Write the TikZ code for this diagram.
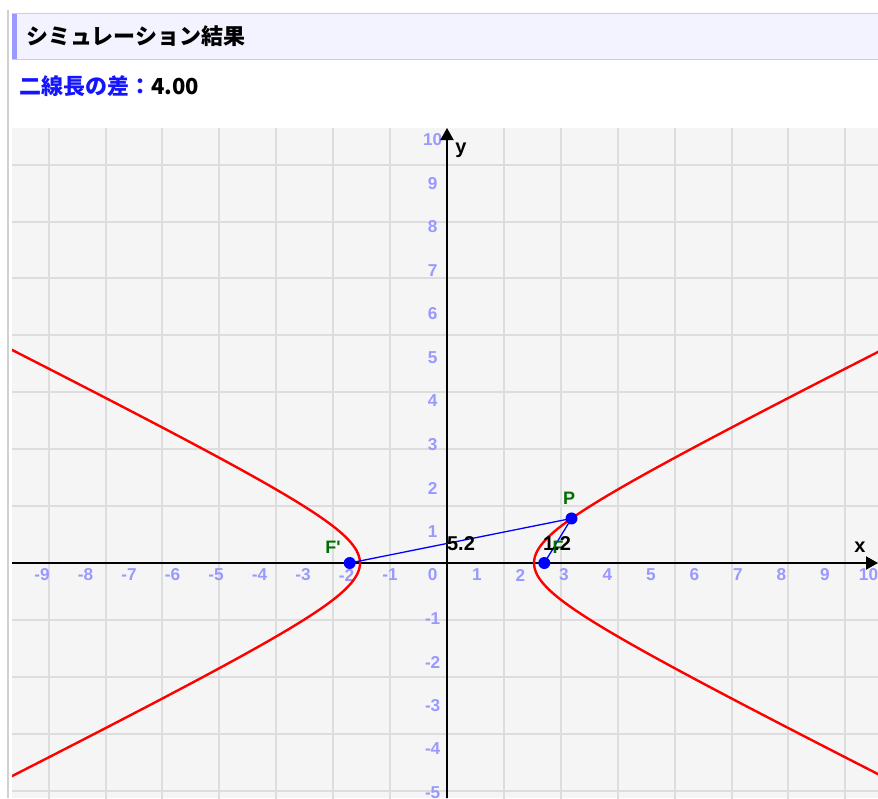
\documentclass[tikz,border=0pt]{standalone}
\usepackage{fontspec}
\setmainfont{Liberation Sans}
\newfontfamily\jpfont{Noto Sans CJK JP}
\usetikzlibrary{arrows.meta}

\definecolor{pagegray}{RGB}{208,208,208}
\definecolor{headfill}{RGB}{243,243,255}
\definecolor{headline}{RGB}{200,200,250}
\definecolor{headbar}{RGB}{155,155,255}
\definecolor{headblue}{RGB}{20,20,255}
\definecolor{plotbg}{RGB}{245,245,245}
\definecolor{gridgray}{RGB}{221,221,221}
\definecolor{tickblue}{RGB}{153,153,255}
\definecolor{ptblue}{RGB}{0,0,255}
\definecolor{labgreen}{RGB}{0,110,0}

\begin{document}
\begin{tikzpicture}[x=21.75pt,y=21.75pt,
    gridline/.style={draw=gridgray, line width=1pt},
    axis/.style={line width=1pt, -{Triangle[length=6pt,width=6.5pt]}},
    ticklab/.style={text=tickblue, inner sep=0pt, font=\fontsize{8.6}{10}\selectfont\bfseries},
    curve/.style={draw=red, line width=1.2pt},
    seg/.style={draw=ptblue, line width=0.65pt},
    pt/.style={circle, fill=ptblue, inner sep=0pt, minimum size=6pt},
    ptlab/.style={text=labgreen, inner sep=0pt, font=\fontsize{9}{10}\selectfont\bfseries},
    seglab/.style={inner sep=0pt, font=\fontsize{10}{11}\selectfont\bfseries}]
  \useasboundingbox (-10.276,-5.402) rectangle (9.908,12.943);

  % page border and heading
  \draw [pagegray, line width=1pt] (-10.103,12.713) -- (-10.103,-5.402);
  \draw [fill=headfill, draw=headline, line width=0.5pt] (-10,12.621) rectangle (10.2,11.586);
  \fill [headbar] (-10,12.621) rectangle (-9.885,11.586);
  \node [anchor=west, inner sep=0pt, font=\jpfont\bfseries\fontsize{11}{13}\selectfont] (title) at (-9.678,12.115) {シミュレーション結果};
  \node [anchor=west, inner sep=0pt, font=\jpfont\bfseries\fontsize{11}{13}\selectfont] (diff) at (-9.839,10.966) {\textcolor{headblue}{二線長の差：}4.00};

  \begin{scope}
    \clip (-10,-5.402) rectangle (9.908,10);
    % grid
    \fill [plotbg] (-10,-5.402) rectangle (9.908,10);
    \draw [gridline] (-10,-6) grid (10,10);

    % tick labels
    \foreach \k in {-10,...,-1,1,2,...,10}
      \node [ticklab] at (\k-0.31,-0.276) {\k};
    \foreach \k in {-5,...,-1,1,2,...,10}
      \node [ticklab] at (-0.33,\k-0.276) {\k};
    \node [ticklab] at (-0.33,-0.276) {0};

    % axes
    \draw [axis] (-10,0) -- (9.908,0);
    \draw [axis] (0,-5.402) -- (0,10);
    \node [seglab] (xlab) at (9.494,0.368) {x};
    \node [seglab] (ylab) at (0.322,9.494) {y};

    % the hyperbola
    \draw [curve] plot [smooth, domain=-2.45:2.45, samples=80, variable=\t] ({2*cosh(\t)},{sinh(\t)});
    \draw [curve] plot [smooth, domain=-2.45:2.45, samples=80, variable=\t] ({-2*cosh(\t)},{sinh(\t)});

    % foci and point
    \node [pt] (Fp) at (-2.236,0) {};
    \node [pt] (F) at (2.236,0) {};
    \node [pt] (P) at (2.862,1.024) {};
    \draw [seg] (Fp.center) -- (P.center);
    \draw [seg] (F.center) -- (P.center);

    % labels
    \node [ptlab] (Fplab) at (-2.621,0.368) {F\textquotesingle};
    \node [ptlab] (Flab) at (2.552,0.368) {F};
    \node [ptlab] (Plab) at (2.805,1.494) {P};
    \node [seglab] (d1) at (0.322,0.437) {5.2};
    \node [seglab] (d2) at (2.529,0.437) {1.2};
  \end{scope}
\end{tikzpicture}
\end{document}
